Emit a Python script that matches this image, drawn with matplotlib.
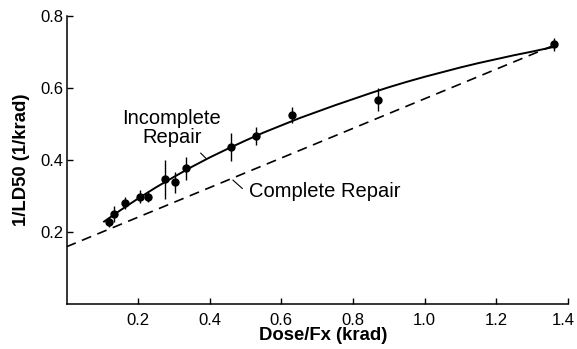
import numpy as np
import matplotlib
matplotlib.use('Agg')
import matplotlib.pyplot as plt
import matplotlib.transforms as mtransforms

plt.rcParams['font.family'] = ['Liberation Sans', 'DejaVu Sans']

# measured points (dose per fraction, 1/LD50) with error half-widths
dose = [0.118, 0.133, 0.163, 0.205, 0.229, 0.274, 0.302, 0.334,
        0.459, 0.528, 0.631, 0.871, 1.363]
inv_ld50 = [0.228, 0.250, 0.280, 0.298, 0.298, 0.346, 0.338, 0.377,
            0.435, 0.467, 0.525, 0.567, 0.721]
err = [0.013, 0.022, 0.017, 0.018, 0.016, 0.053, 0.029, 0.032,
       0.039, 0.024, 0.022, 0.032, 0.019]

# incomplete repair curve
inc_x = [0.105, 0.15, 0.2, 0.25, 0.3, 0.35, 0.4, 0.45, 0.5, 0.55, 0.6,
         0.65, 0.7, 0.75, 0.8, 0.85, 0.9, 0.95, 1.0, 1.05, 1.1, 1.15,
         1.2, 1.25, 1.3, 1.37]
inc_y = [0.229, 0.260, 0.293, 0.324, 0.353, 0.381, 0.407, 0.431, 0.454,
         0.476, 0.496, 0.516, 0.534, 0.552, 0.569, 0.586, 0.602, 0.617,
         0.631, 0.644, 0.657, 0.669, 0.680, 0.691, 0.701, 0.716]

# complete repair line
comp_x = [0.0, 1.37]
comp_y = [0.159, 0.722]

fig = plt.figure(figsize=(5.77, 3.49), dpi=100)
ax = fig.add_axes([66.5/577, 1 - 304/349, (567.7 - 66.5)/577, (304 - 16)/349])

ax.plot(inc_x, inc_y, color='black', lw=1.4)
ax.plot(comp_x, comp_y, color='black', lw=1.2, dashes=(6, 4))
ax.errorbar(dose, inv_ld50, yerr=err, fmt='o', color='black', ms=5,
            elinewidth=1.0, capsize=0)

# labels with small leader ticks
ax.text(0.294, 0.489, 'Incomplete\nRepair', ha='center', va='center',
        fontsize=14.5, linespacing=1.05)
ax.plot([0.375, 0.389], [0.419, 0.405], color='black', lw=0.8)
ax.text(0.51, 0.312, 'Complete Repair', ha='left', va='center', fontsize=14.5)
ax.plot([0.465, 0.491], [0.344, 0.321], color='black', lw=0.8)

ax.set_xlim(0, 1.4)
ax.set_ylim(0, 0.8)
ax.set_xticks([0.2, 0.4, 0.6, 0.8, 1.0, 1.2, 1.4])
ax.set_xticklabels(['0.2', '0.4', '0.6', '0.8', '1.0', '1.2', '1.4'])
ax.set_yticks([0.2, 0.4, 0.6, 0.8])
ax.set_yticklabels(['0.2', '0.4', '0.6', '0.8'])
ax.tick_params(direction='in', length=4, width=1, labelsize=12)
ax.tick_params(axis='x', pad=6.5)
ax.tick_params(axis='y', pad=2.5)
ax.spines['top'].set_visible(False)
ax.spines['right'].set_visible(False)
ax.spines['left'].set_linewidth(1.1)
ax.spines['bottom'].set_linewidth(1.1)

# nudge the last tick label so it stays inside the figure
last = ax.get_xticklabels()[-1]
last.set_transform(last.get_transform() +
                   mtransforms.ScaledTranslation(-4/100, 0, fig.dpi_scale_trans))

ax.set_xlabel('Dose/Fx (krad)', fontsize=13.3, fontweight='bold')
ax.set_ylabel('1/LD50 (1/krad)', fontsize=13.3, fontweight='bold')
ax.xaxis.set_label_coords(0.512, -0.111)
ax.xaxis.label.set_va('center')
ax.yaxis.set_label_coords(-0.089, 0.5)
ax.yaxis.label.set_va('center')

fig.savefig('out.png', dpi=100)
